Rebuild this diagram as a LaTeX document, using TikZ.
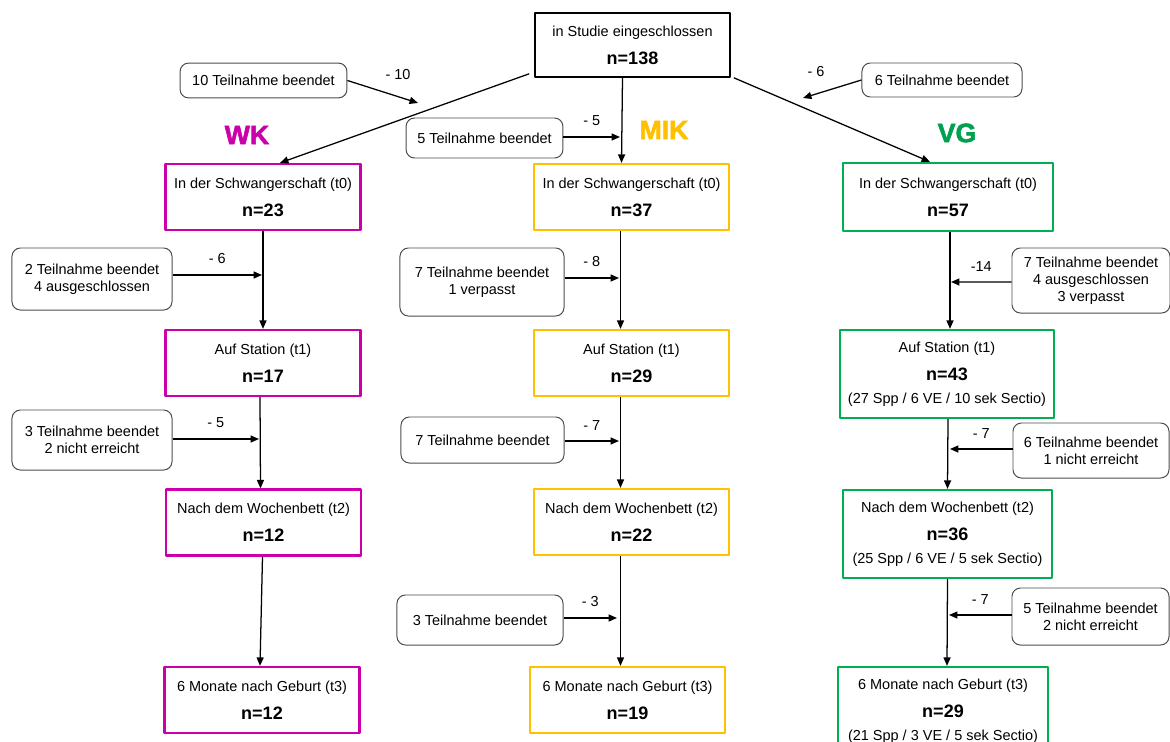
\documentclass[tikz,border=0pt]{standalone}
\usepackage{fontspec}
\setmainfont{Liberation Sans}
\newfontfamily\groupfont[FakeBold=2.2]{Liberation Sans Bold}
\usetikzlibrary{arrows.meta}
\definecolor{wkcol}{RGB}{204,0,170}
\definecolor{mikcol}{RGB}{255,192,0}
\definecolor{vgcol}{RGB}{0,176,80}
\definecolor{vgtext}{RGB}{0,160,80}
\newcommand{\nz}[1]{{\fontsize{12.8}{15}\selectfont\bfseries #1}}
\begin{document}
\begin{tikzpicture}[x=0.025cm,y=-0.025cm,>={Triangle[length=6pt,width=5pt]},
	font=\fontsize{10.3}{12}\selectfont, line join=round,
	stage/.style={draw,line width=1.6pt,align=center,minimum width=4.875cm,minimum height=1.65cm,inner sep=0pt},
	dropbox/.style={draw=black!70,line width=0.7pt,rounded corners=6pt,align=center,inner sep=0pt},
	loss/.style={font=\fontsize{10.3}{12}\selectfont},
	group/.style={font=\groupfont\fontsize{19}{22}\selectfont},
	flow/.style={->,line width=0.9pt}]
	\useasboundingbox (0,0) rectangle (1170,742);
	% Einschluss
	\node[stage,draw=black,line width=1.1pt,minimum height=1.6cm] (top) at (632.5,45) {in Studie eingeschlossen\\[8pt]\nz{n=138}};
	\node[dropbox,minimum width=4.17cm,minimum height=0.87cm] (wkd0) at (263.5,80.5) {10 Teilnahme beendet};
	\node[dropbox,minimum width=3.92cm,minimum height=1cm] (mikd0) at (484.5,138) {5 Teilnahme beendet};
	\node[dropbox,minimum width=4cm,minimum height=0.85cm] (vgd0) at (942,80) {6 Teilnahme beendet};
	\node[group,text=wkcol] (wk) at (247,135) {WK};
	\node[group,text=mikcol] (mik) at (664,130) {MIK};
	\node[group,text=vgtext] (vg) at (957,133) {VG};
	% WK
	\node[stage,draw=wkcol] (wk0) at (263,197) {In der Schwangerschaft (t0)\\[8pt]\nz{n=23}};
	\node[stage,draw=wkcol] (wk1) at (263,363) {Auf Station (t1)\\[8pt]\nz{n=17}};
	\node[stage,draw=wkcol] (wk2) at (263.5,522.5) {Nach dem Wochenbett (t2)\\[8pt]\nz{n=12}};
	\node[stage,draw=wkcol] (wk3) at (262,700) {6 Monate nach Geburt (t3)\\[8pt]\nz{n=12}};
	\node[dropbox,minimum width=4cm,minimum height=1.55cm] (wkd1) at (92,279) {2 Teilnahme beendet\\4 ausgeschlossen};
	\node[dropbox,minimum width=4cm,minimum height=1.5cm] (wkd2) at (92,440) {3 Teilnahme beendet\\2 nicht erreicht};
	% MIK
	\node[stage,draw=mikcol] (mik0) at (631.5,197) {In der Schwangerschaft (t0)\\[8pt]\nz{n=37}};
	\node[stage,draw=mikcol] (mik1) at (631.5,363) {Auf Station (t1)\\[8pt]\nz{n=29}};
	\node[stage,draw=mikcol] (mik2) at (631.5,522) {Nach dem Wochenbett (t2)\\[8pt]\nz{n=22}};
	\node[stage,draw=mikcol] (mik3) at (627.5,700) {6 Monate nach Geburt (t3)\\[8pt]\nz{n=19}};
	\node[dropbox,minimum width=4.1cm,minimum height=1.7cm] (mikd1) at (482,282) {7 Teilnahme beendet\\1 verpasst};
	\node[dropbox,minimum width=4.075cm,minimum height=1.15cm] (mikd2) at (482.5,440) {7 Teilnahme beendet};
	\node[dropbox,minimum width=4.15cm,minimum height=1.25cm] (mikd3) at (480,620) {3 Teilnahme beendet};
	% VG
	\node[stage,draw=vgcol,minimum width=5.25cm,minimum height=1.7cm] (vg0) at (948,197) {In der Schwangerschaft (t0)\\[8pt]\nz{n=57}};
	\node[stage,draw=vgcol,minimum width=5.35cm,minimum height=2.2cm] (vg1) at (947,374) {Auf Station (t1)\\[8pt]\nz{n=43}\\[4pt](27 Spp / 6 VE / 10 sek Sectio)};
	\node[stage,draw=vgcol,minimum width=5.225cm,minimum height=2.2cm] (vg2) at (947.5,534) {Nach dem Wochenbett (t2)\\[8pt]\nz{n=36}\\[4pt](25 Spp / 6 VE / 5 sek Sectio)};
	\node[stage,draw=vgcol,minimum width=5.25cm,minimum height=2.2cm] (vg3) at (943,711) {6 Monate nach Geburt (t3)\\[8pt]\nz{n=29}\\[4pt](21 Spp / 3 VE / 5 sek Sectio)};
	\node[dropbox,minimum width=3.95cm,minimum height=1.625cm] (vgd1) at (1091,280.5) {7 Teilnahme beendet\\4 ausgeschlossen\\3 verpasst};
	\node[dropbox,minimum width=3.9cm,minimum height=1.375cm] (vgd2) at (1091,450.5) {6 Teilnahme beendet\\1 nicht erreicht};
	\node[dropbox,minimum width=3.925cm,minimum height=1.425cm] (vgd3) at (1090.5,616.5) {5 Teilnahme beendet\\2 nicht erreicht};
	% Verlauf
	\coordinate (wkm0) at (418,103);
	\coordinate (vgm0) at (803,98);
	\draw[flow] ([shift={(-5,-4)}]top.south west) -- ([shift={(17,0)}]wk0.north);
	\draw[flow] ([shift={(3,0)}]top.south east) -- ([shift={(-18,0)}]vg0.north);
	\draw[flow] ([shift={(-10,0)}]top.south) -- ([shift={(-10,0)}]mik0.north);
	\draw[flow] (wkd0.east) -- (wkm0);
	\draw[flow] (vgd0.west) -- (vgm0);
	\node[loss] (wkl0) at (398,75) {- 10};
	\node[loss] (vgl0) at (816,72) {- 6};
	\draw[flow] ([shift={(0,-1)}]mikd0.east) -- (620,137) node[loss,midway,above=4pt] (mikl0) {- 5};
	% WK Verlauf
	\draw[flow] (wk0) -- (wk1);
	\draw[flow] ([shift={(-3,0)}]wk1.south) -- ([shift={(-3,0)}]wk2.north);
	\draw[flow] ([shift={(-1,0)}]wk2.south) -- ([shift={(-2,0)}]wk3.north);
	\coordinate (wkm1) at (262,275);
	\coordinate (wkm2) at (259,439);
	\draw[flow] ([shift={(0,-4)}]wkd1.east) -- (wkm1) node[loss,midway,above=4pt] (wkl1) {- 6};
	\draw[flow] ([shift={(0,-1)}]wkd2.east) -- (wkm2) node[loss,midway,above=4pt] (wkl2) {- 5};
	% MIK Verlauf
	\draw[flow] ([shift={(-11,0)}]mik0.south) -- ([shift={(-11,0)}]mik1.north);
	\draw[flow] ([shift={(-11,0)}]mik1.south) -- ([shift={(-11,0)}]mik2.north);
	\draw[flow] ([shift={(-11,0)}]mik2.south) -- ([shift={(-7,0)}]mik3.north);
	\coordinate (mikm1) at (619,278);
	\coordinate (mikm2) at (619,441);
	\coordinate (mikm3) at (617,618);
	\draw[flow] ([shift={(0,-4)}]mikd1.east) -- (mikm1) node[loss,midway,above=4pt] (mikl1) {- 8};
	\draw[flow] ([shift={(0,1)}]mikd2.east) -- (mikm2) node[loss,midway,above=4pt] (mikl2) {- 7};
	\draw[flow] ([shift={(0,-2)}]mikd3.east) -- (mikm3) node[loss,midway,above=4pt] (mikl3) {- 3};
	% VG Verlauf
	\draw[flow] ([shift={(2,0)}]vg0.south) -- ([shift={(3,0)}]vg1.north);
	\draw[flow] ([shift={(1,0)}]vg1.south) -- (vg2.north);
	\draw[flow] (vg2.south) -- ([shift={(4,0)}]vg3.north);
	\coordinate (vgm1) at (951,282);
	\coordinate (vgm2) at (950,449);
	\coordinate (vgm3) at (949,615);
	\draw[flow] ([shift={(0,1.5)}]vgd1.west) -- (vgm1) node[loss,midway,above=4pt] (vgl1) {-14};
	\draw[flow] ([shift={(0,-1.5)}]vgd2.west) -- (vgm2) node[loss,midway,above=4pt] (vgl2) {- 7};
	\draw[flow] ([shift={(0,-1.5)}]vgd3.west) -- (vgm3) node[loss,midway,above=4pt] (vgl3) {- 7};
\end{tikzpicture}
\end{document}
